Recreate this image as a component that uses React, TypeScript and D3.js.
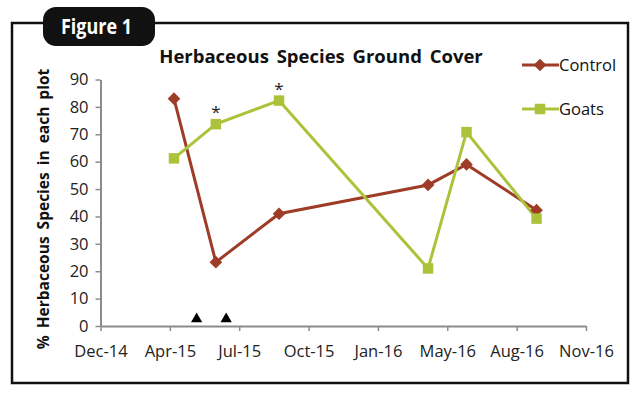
import React, { useRef, useEffect } from 'react';
import * as d3 from 'd3';

// sampling dates
const dates = ['2015-04-07', '2015-06-07', '2015-09-07', '2016-04-11', '2016-06-06', '2016-09-16'];
const control = [83, 23.3, 41, 51.5, 59, 42.3];
const goats = [61.2, 73.7, 82.3, 21, 70.8, 39.2];
// significant differences marked with *
const starIdx = [1, 2];
// treatment dates (triangles)
const treatDates = ['2015-05-10', '2015-06-22'];
const tickLabels = ['Dec-14', 'Apr-15', 'Jul-15', 'Oct-15', 'Jan-16', 'May-16', 'Aug-16', 'Nov-16'];
const yTicks = [0, 10, 20, 30, 40, 50, 60, 70, 80, 90];

const CONTROL = '#9f3c27';
const GOATS = '#abc33b';

const App = () => {
    const ref = useRef<SVGSVGElement>(null);

    useEffect(() => {
        const svg = d3.select(ref.current);
        svg.selectAll('*').remove();

        const parse = d3.timeParse('%Y-%m-%d');
        const start = parse('2014-12-21')!;
        const tickDates = tickLabels.map((_, i) => d3.timeDay.offset(start, i * 101));

        const x = d3.scaleTime()
            .domain([tickDates[0], tickDates[tickDates.length - 1]])
            .range([100.5, 586]);
        const y = d3.scaleLinear().domain([0, 90]).range([326, 79.5]);

        const font = 'Open Sans, sans-serif';

        // frame
        svg.append('rect')
            .attr('x', 12).attr('y', 23).attr('width', 616).attr('height', 360)
            .attr('fill', 'white').attr('stroke', '#111').attr('stroke-width', 2.5);

        // badge
        svg.append('rect')
            .attr('x', 43).attr('y', 7).attr('width', 112).attr('height', 39).attr('rx', 13)
            .attr('fill', '#111');
        svg.append('text')
            .attr('x', 61).attr('y', 34)
            .attr('font-family', font).attr('font-weight', 700)
            .attr('font-size', 21).attr('fill', 'white')
            .attr('textLength', 71).attr('lengthAdjust', 'spacingAndGlyphs')
            .text('Figure 1');

        // title
        svg.append('text')
            .attr('x', 321).attr('y', 63).attr('text-anchor', 'middle')
            .attr('font-family', font).attr('font-weight', 700)
            .attr('font-size', 18.5).attr('fill', '#111')
            .attr('word-spacing', 3)
            .text('Herbaceous Species Ground Cover');

        // y axis label
        svg.append('text')
            .attr('transform', 'translate(49,209) rotate(-90)')
            .attr('text-anchor', 'middle')
            .attr('font-family', font).attr('font-weight', 700)
            .attr('font-size', 15.5).attr('fill', '#111')
            .attr('word-spacing', 3)
            .text('% Herbaceous Species in each plot');

        const axisColor = '#8c8c8c';

        const gy = svg.append('g')
            .attr('transform', `translate(${x.range()[0]},0)`)
            .call(d3.axisLeft(y).tickValues(yTicks).tickSize(5).tickPadding(7).tickSizeOuter(0));
        const gx = svg.append('g')
            .attr('transform', `translate(0,${y(0)})`)
            .call(d3.axisBottom(x).tickValues(tickDates).tickFormat((_, i) => tickLabels[i])
                .tickSize(5).tickPadding(14).tickSizeOuter(0));

        [gx, gy].forEach(g => {
            g.select('.domain').attr('stroke', axisColor).attr('stroke-width', 2);
            g.selectAll('.tick line').attr('stroke', axisColor).attr('stroke-width', 1.5);
            g.selectAll('.tick text')
                .attr('font-family', font).attr('font-size', 16.5).attr('fill', '#222');
        });

        const line = d3.line<[Date, number]>().x(d => x(d[0])).y(d => y(d[1]));
        const cData: [Date, number][] = dates.map((d, i) => [parse(d)!, control[i]]);
        const gData: [Date, number][] = dates.map((d, i) => [parse(d)!, goats[i]]);

        svg.append('path').datum(cData)
            .attr('fill', 'none').attr('stroke', CONTROL).attr('stroke-width', 3).attr('d', line);
        svg.append('path').datum(gData)
            .attr('fill', 'none').attr('stroke', GOATS).attr('stroke-width', 3).attr('d', line);

        const diamond = d3.symbol().type(d3.symbolSquare).size(80)();
        const square = d3.symbol().type(d3.symbolSquare).size(110)();

        svg.append('g').selectAll('path').data(cData).join('path')
            .attr('transform', d => `translate(${x(d[0])},${y(d[1])}) rotate(45)`)
            .attr('d', diamond)
            .attr('fill', CONTROL);
        svg.append('g').selectAll('path').data(gData).join('path')
            .attr('transform', d => `translate(${x(d[0])},${y(d[1])})`)
            .attr('d', square)
            .attr('fill', GOATS);

        // stars
        svg.append('g').selectAll('text').data(starIdx).join('text')
            .attr('x', i => x(gData[i][0]))
            .attr('y', i => y(gData[i][1]) - 6)
            .attr('text-anchor', 'middle')
            .attr('font-family', font).attr('font-size', 17).attr('fill', '#222')
            .text('*');

        // treatment triangles
        svg.append('g').selectAll('path').data(treatDates).join('path')
            .attr('transform', d => `translate(${x(parse(d)!)},${y(0) - 7})`)
            .attr('d', d3.symbol().type(d3.symbolTriangle).size(55)())
            .attr('fill', '#000');

        // legend
        const legend = [
            { name: 'Control', color: CONTROL, sym: 'd', y: 65 },
            { name: 'Goats', color: GOATS, sym: 's', y: 109 },
        ];
        const lg = svg.append('g').selectAll('g').data(legend).join('g')
            .attr('transform', d => `translate(522,${d.y})`);
        lg.append('line').attr('x1', 0).attr('x2', 37).attr('y1', 0).attr('y2', 0)
            .attr('stroke', d => d.color).attr('stroke-width', 3);
        lg.append('path')
            .attr('transform', d => d.sym === 'd' ? 'translate(18,0) rotate(45)' : 'translate(18,0)')
            .attr('d', d => d.sym === 'd' ? diamond : square)
            .attr('fill', d => d.color);
        lg.append('text')
            .attr('x', 37).attr('y', 0).attr('dy', '0.35em')
            .attr('font-family', font).attr('font-size', 16.5).attr('fill', '#111')
            .text(d => d.name);
    }, []);

    return (
        <svg ref={ref} width={639} height={393} style={{ position: 'absolute', left: 0, top: 0 }}></svg>
    );
};

export default App;
